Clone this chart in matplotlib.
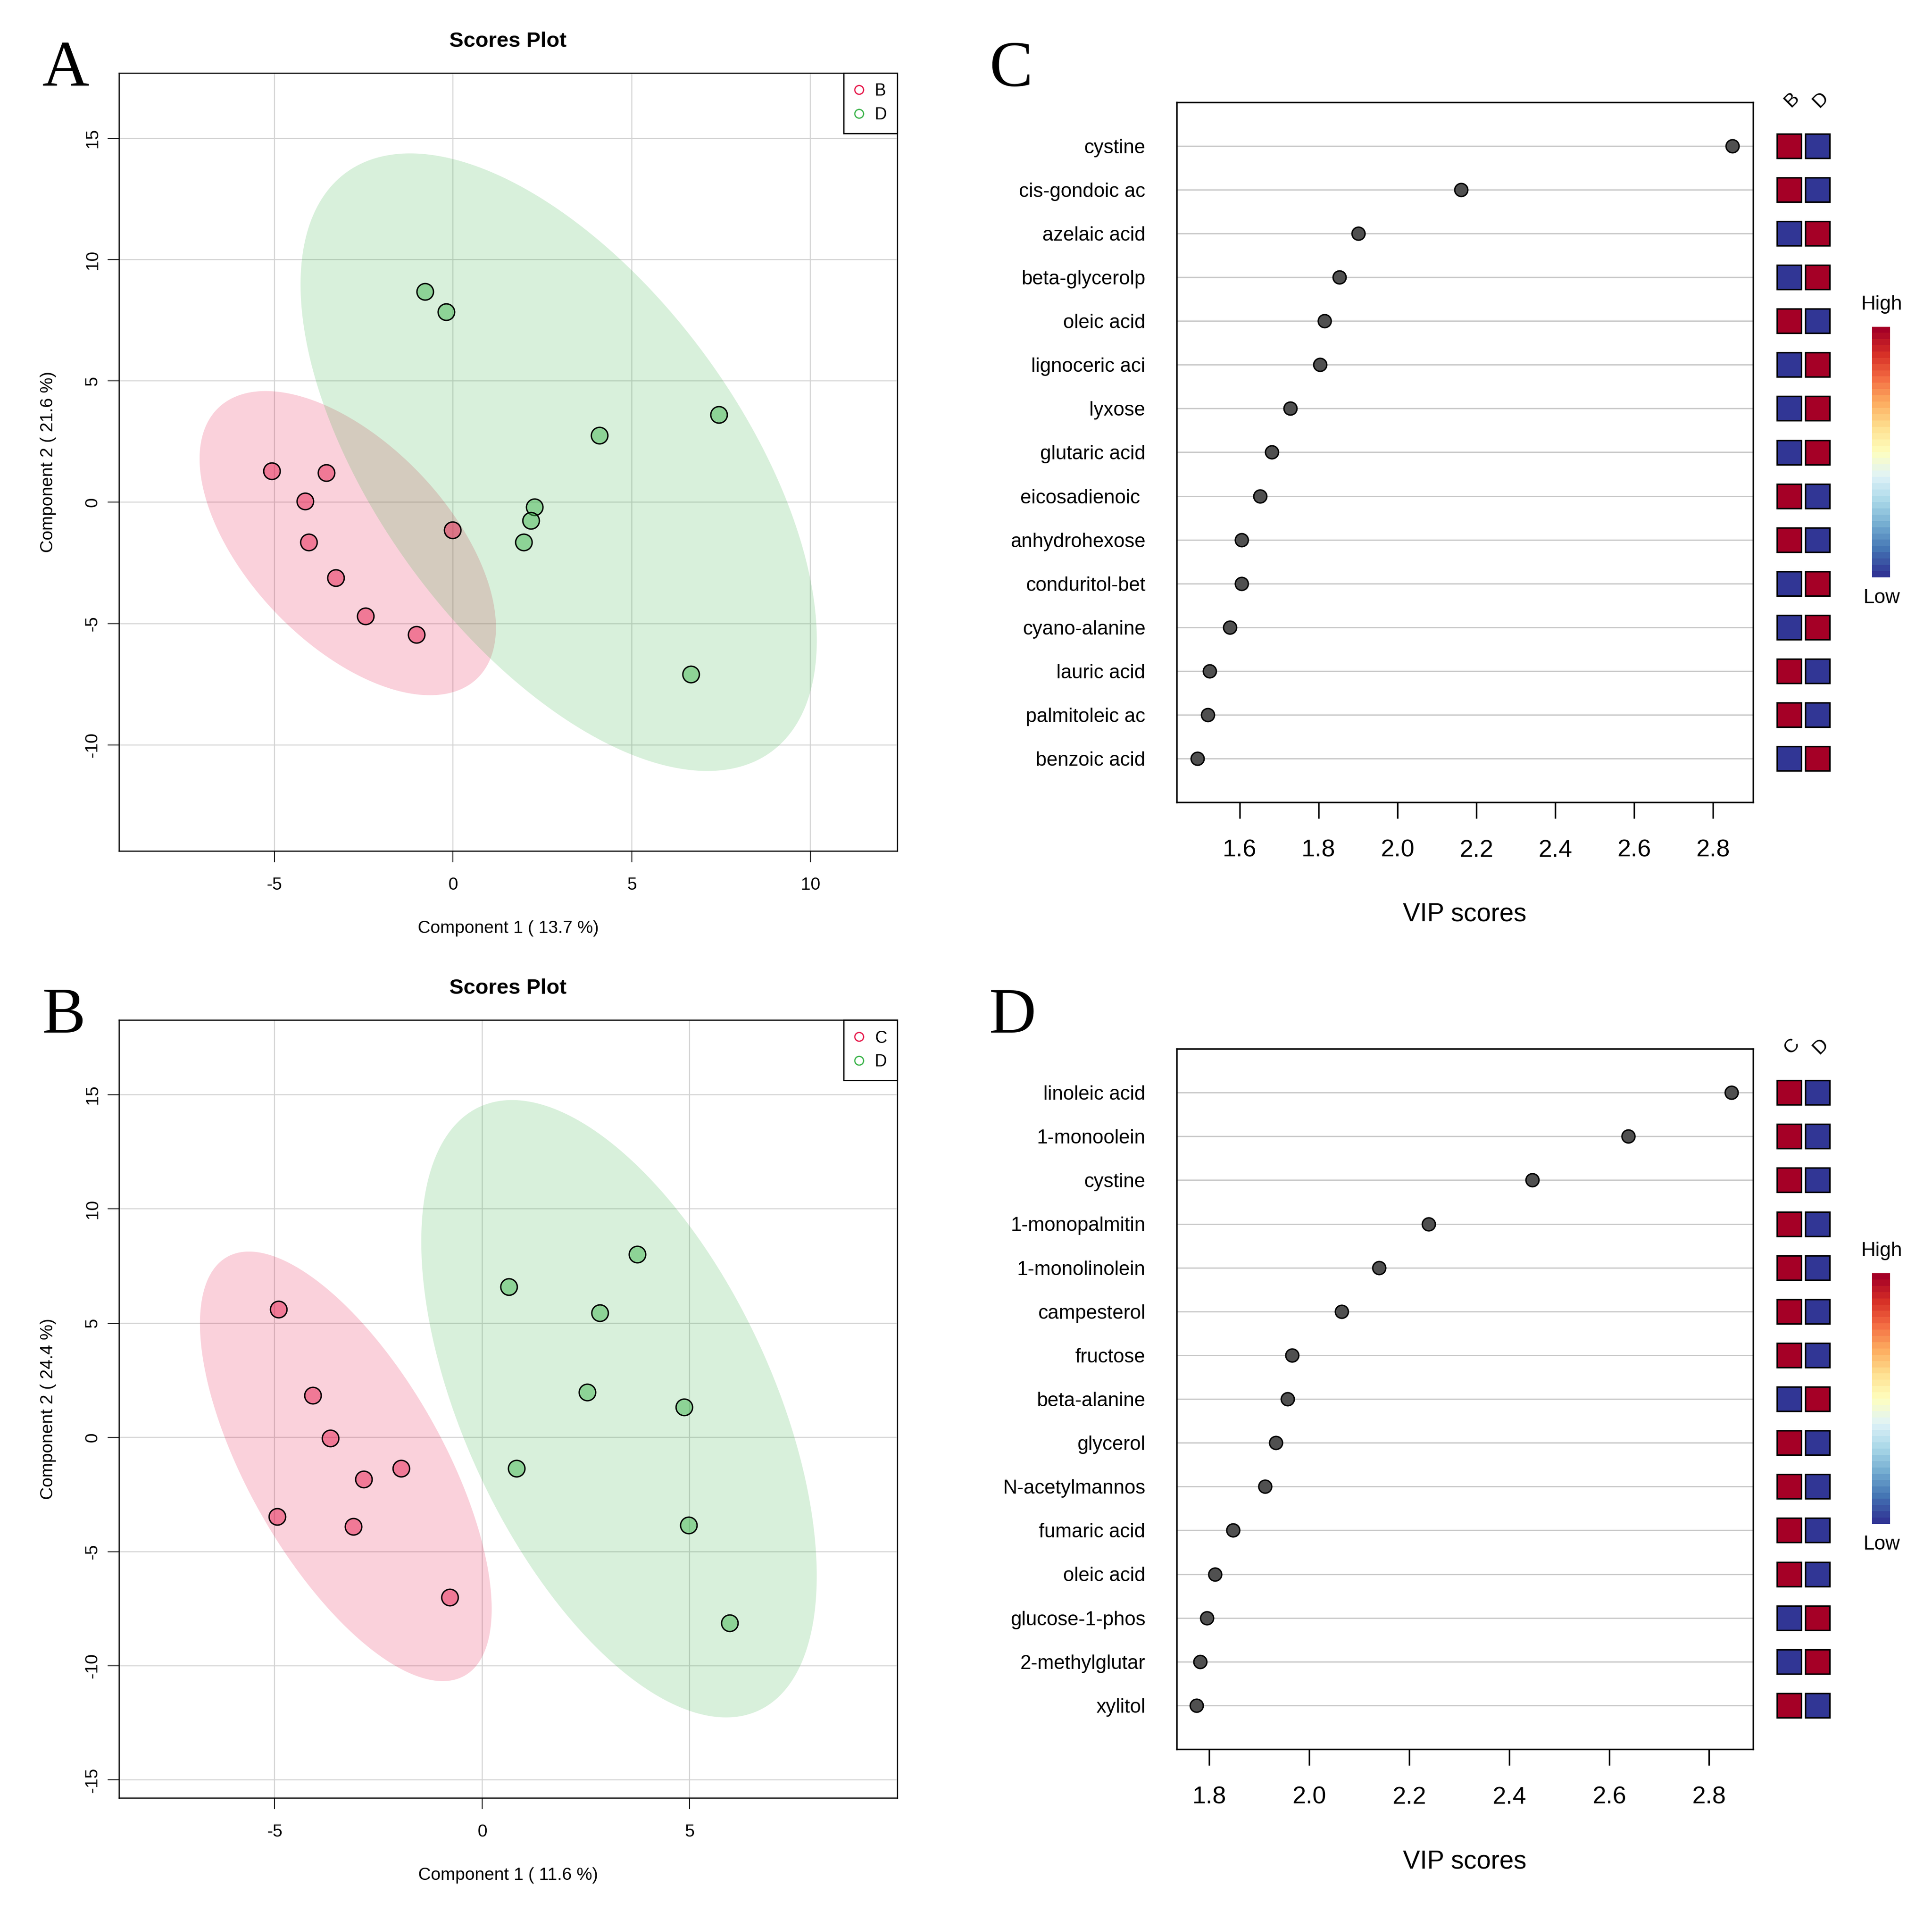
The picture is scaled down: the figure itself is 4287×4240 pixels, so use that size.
import numpy as np
import matplotlib
matplotlib.use("Agg")
import matplotlib.pyplot as plt
from matplotlib.patches import Rectangle
from matplotlib.lines import Line2D
from matplotlib.colors import to_rgba

plt.rcParams['font.family'] = ['Liberation Sans', 'DejaVu Sans']
plt.rcParams['axes.unicode_minus'] = False

W, H = 4287, 4240

# ---- scores plot A (groups B, D)
a_b_x = [-5.07, -3.55, -4.14, -4.04, -3.28, -2.45, -1.03, -0.02]
a_b_y = [1.29, 1.22, 0.05, -1.64, -3.11, -4.70, -5.45, -1.14]
a_d_x = [-0.79, -0.19, 4.09, 7.43, 2.28, 2.18, 1.98, 6.66]
a_d_y = [8.68, 7.84, 2.76, 3.61, -0.20, -0.75, -1.64, -7.09]

# ---- scores plot B (groups C, D)
b_c_x = [-4.91, -4.08, -3.66, -2.86, -1.95, -4.94, -3.10, -0.78]
b_c_y = [5.60, 1.83, -0.03, -1.83, -1.35, -3.47, -3.90, -7.00]
b_d_x = [0.64, 3.74, 2.83, 2.53, 4.87, 0.83, 4.97, 5.96]
b_d_y = [6.60, 8.02, 5.44, 1.97, 1.32, -1.35, -3.85, -8.13]

# ---- VIP C (B vs D)
c_names = ["cystine", "cis-gondoic ac", "azelaic acid", "beta-glycerolp", "oleic acid",
           "lignoceric aci", "lyxose", "glutaric acid", "eicosadienoic ", "anhydrohexose",
           "conduritol-bet", "cyano-alanine", "lauric acid", "palmitoleic ac", "benzoic acid"]
c_vip = [2.849, 2.161, 1.901, 1.853, 1.815, 1.804, 1.728, 1.681, 1.651, 1.605,
         1.605, 1.575, 1.524, 1.519, 1.493]
c_high_first = [1, 1, 0, 0, 1, 0, 0, 0, 1, 1, 0, 0, 1, 1, 0]   # 1 = first group high

# ---- VIP D (C vs D)
d_names = ["linoleic acid", "1-monoolein", "cystine", "1-monopalmitin", "1-monolinolein",
           "campesterol", "fructose", "beta-alanine", "glycerol", "N-acetylmannos",
           "fumaric acid", "oleic acid", "glucose-1-phos", "2-methylglutar", "xylitol"]
d_vip = [2.845, 2.638, 2.446, 2.239, 2.140, 2.065, 1.966, 1.957, 1.933, 1.912,
         1.848, 1.812, 1.795, 1.782, 1.775]
d_high_first = [1, 1, 1, 1, 1, 1, 1, 0, 1, 1, 1, 1, 0, 0, 1]

red = '#E6194B'
green = '#3CB44B'
cmap = plt.get_cmap('RdYlBu_r')

fig = plt.figure(figsize=(W / 100, H / 100), dpi=100)


def rect(x0, y0, x1, y1):
    return [x0 / W, 1 - y1 / H, (x1 - x0) / W, (y1 - y0) / H]


def conf_ellipse(x, y, n=300):
    x = np.asarray(x); y = np.asarray(y)
    c = np.cov(np.column_stack([x, y]), rowvar=False)
    vals, vecs = np.linalg.eigh(c)
    t = np.linspace(0, 2 * np.pi, n)
    circ = np.stack([np.cos(t), np.sin(t)])
    e = vecs @ (np.sqrt(vals)[:, None] * circ) * np.sqrt(5.991)
    return e[0] + x.mean(), e[1] + y.mean()


def scores_panel(box, groups, names, xlim, ylim, xticks, yticks, xlab, ylab):
    ax = fig.add_axes(rect(*box))
    hpx = box[3] - box[1]
    wpx = box[2] - box[0]
    ax.set_xlim(xlim)
    ax.set_ylim(ylim)
    ax.set_xticks(xticks, [str(t) for t in xticks])
    ax.set_yticks(yticks, [str(t) for t in yticks])
    ax.grid(True, color='#D3D3D3', lw=1.7)
    ax.set_axisbelow(True)
    cols = [red, green]
    for (gx, gy), col in zip(groups, cols):
        ex, ey = conf_ellipse(gx, gy)
        ax.fill(ex, ey, color=col, alpha=0.2, lw=0, zorder=1)
    for (gx, gy), col in zip(groups, cols):
        ax.scatter(gx, gy, s=700, facecolor=to_rgba(col, 0.48), edgecolor='black',
                   lw=2.2, zorder=3)
    for sp in ax.spines.values():
        sp.set_linewidth(1.8)
    ax.tick_params(length=18, width=1.4, labelsize=28)
    ax.tick_params(axis='x', pad=24)
    ax.tick_params(axis='y', pad=11)
    plt.setp(ax.get_yticklabels(), rotation=90, va='center', ha='right')
    ax.set_xlabel(xlab, fontsize=28, va='center')
    ax.xaxis.set_label_coords(0.5, -172 / hpx)
    ax.set_ylabel(ylab, fontsize=28, va='center')
    ax.yaxis.set_label_coords(-157 / wpx, 0.5)
    ax.set_title('Scores Plot', fontsize=34, fontweight='bold', y=1 + 70 / hpx,
                 va='center', pad=0)
    handles = [Line2D([], [], marker='o', ls='', mfc='none', mec=c, ms=14, mew=2)
               for c in cols]
    leg = ax.legend(handles, names, loc='upper right', borderaxespad=0, fancybox=False,
                    edgecolor='black', framealpha=1, fontsize=27, handlelength=0.6,
                    handletextpad=0.65, borderpad=0.6, labelspacing=0.45)
    leg.get_frame().set_linewidth(2)
    return ax


def vip_panel(box, names, vals, high, gnames, xlim, xticks, cb_top, cb_bot):
    ax = fig.add_axes(rect(*box))
    hpx = box[3] - box[1]
    ys = np.arange(len(names), 0, -1)
    ax.scatter(vals, ys, s=436, c='#505050', edgecolors='black', lw=2.2, zorder=3)
    ax.set_xlim(xlim)
    ax.set_ylim(0, len(names) + 1)
    ax.set_yticks(ys, names)
    ax.yaxis.grid(True, color='#C8C8C8', lw=2)
    ax.set_axisbelow(True)
    ax.set_xticks(xticks, ['%.1f' % t for t in xticks])
    ax.tick_params(axis='y', length=0, pad=50, labelsize=31.5)
    ax.tick_params(axis='x', length=26, width=2.5, pad=33, labelsize=39)
    for sp in ax.spines.values():
        sp.set_linewidth(2.5)
    ax.set_xlabel('VIP scores', fontsize=41, va='center')
    ax.xaxis.set_label_coords(0.5, -249 / hpx)

    # heat squares
    hx = fig.add_axes(rect(3938.5, box[1], 4064.5, box[3]))
    hx.set_xlim(0.5, 2.5)
    hx.set_ylim(0, len(names) + 1)
    hx.axis('off')
    sw, sh = 54 / 63, 54 / (hpx / (len(names) + 1))
    for y, h in zip(ys, high):
        for j, v in enumerate([h, 1 - h]):
            hx.add_patch(Rectangle((j + 1 - sw / 2, y - sh / 2), sw, sh,
                                   facecolor=cmap(float(v)), edgecolor='black', lw=2.4))
    for j, g in enumerate(gnames):
        hx.text(j + 1.1, len(names) + 1 + 6 / 97, g, rotation=45, ha='center',
                va='center', fontsize=31, clip_on=False)

    # color key
    cx = fig.add_axes(rect(4154, cb_top, 4194, cb_bot))
    cx.imshow(np.linspace(0, 1, 40)[:, None], aspect='auto', cmap=cmap, origin='lower')
    cx.axis('off')
    fig.text(4175 / W, 1 - (cb_top - 49) / H, 'High', ha='center', va='center', fontsize=32)
    fig.text(4175 / W, 1 - (cb_bot + 46) / H, 'Low', ha='center', va='center', fontsize=32)
    return ax


scores_panel((264, 162, 1991, 1888), [(a_b_x, a_b_y), (a_d_x, a_d_y)], ['B', 'D'],
             (-9.35, 12.43), (-14.37, 17.69), [-5, 0, 5, 10], [-10, -5, 0, 5, 10, 15],
             'Component 1 ( 13.7 %)', 'Component 2 ( 21.6 %)')
scores_panel((264, 2263, 1991, 3989), [(b_c_x, b_c_y), (b_d_x, b_d_y)], ['C', 'D'],
             (-8.75, 10.0), (-15.78, 18.27), [-5, 0, 5], [-15, -10, -5, 0, 5, 10, 15],
             'Component 1 ( 11.6 %)', 'Component 2 ( 24.4 %)')

vip_panel((2611, 227, 3890, 1780), c_names, c_vip, c_high_first, ['B', 'D'],
          (1.44, 2.902), [1.6, 1.8, 2.0, 2.2, 2.4, 2.6, 2.8], 725, 1281)
vip_panel((2611, 2327, 3890, 3881), d_names, d_vip, d_high_first, ['C', 'D'],
          (1.735, 2.888), [1.8, 2.0, 2.2, 2.4, 2.6, 2.8], 2825, 3381)

for letter, x, y in [('A', 94, 190), ('C', 2195, 191), ('B', 94, 2291), ('D', 2195, 2291)]:
    fig.text(x / W, 1 - y / H, letter, ha='left', va='baseline', fontsize=104,
             family=['Liberation Serif', 'DejaVu Serif'])

fig.savefig('out.png', dpi=100)
